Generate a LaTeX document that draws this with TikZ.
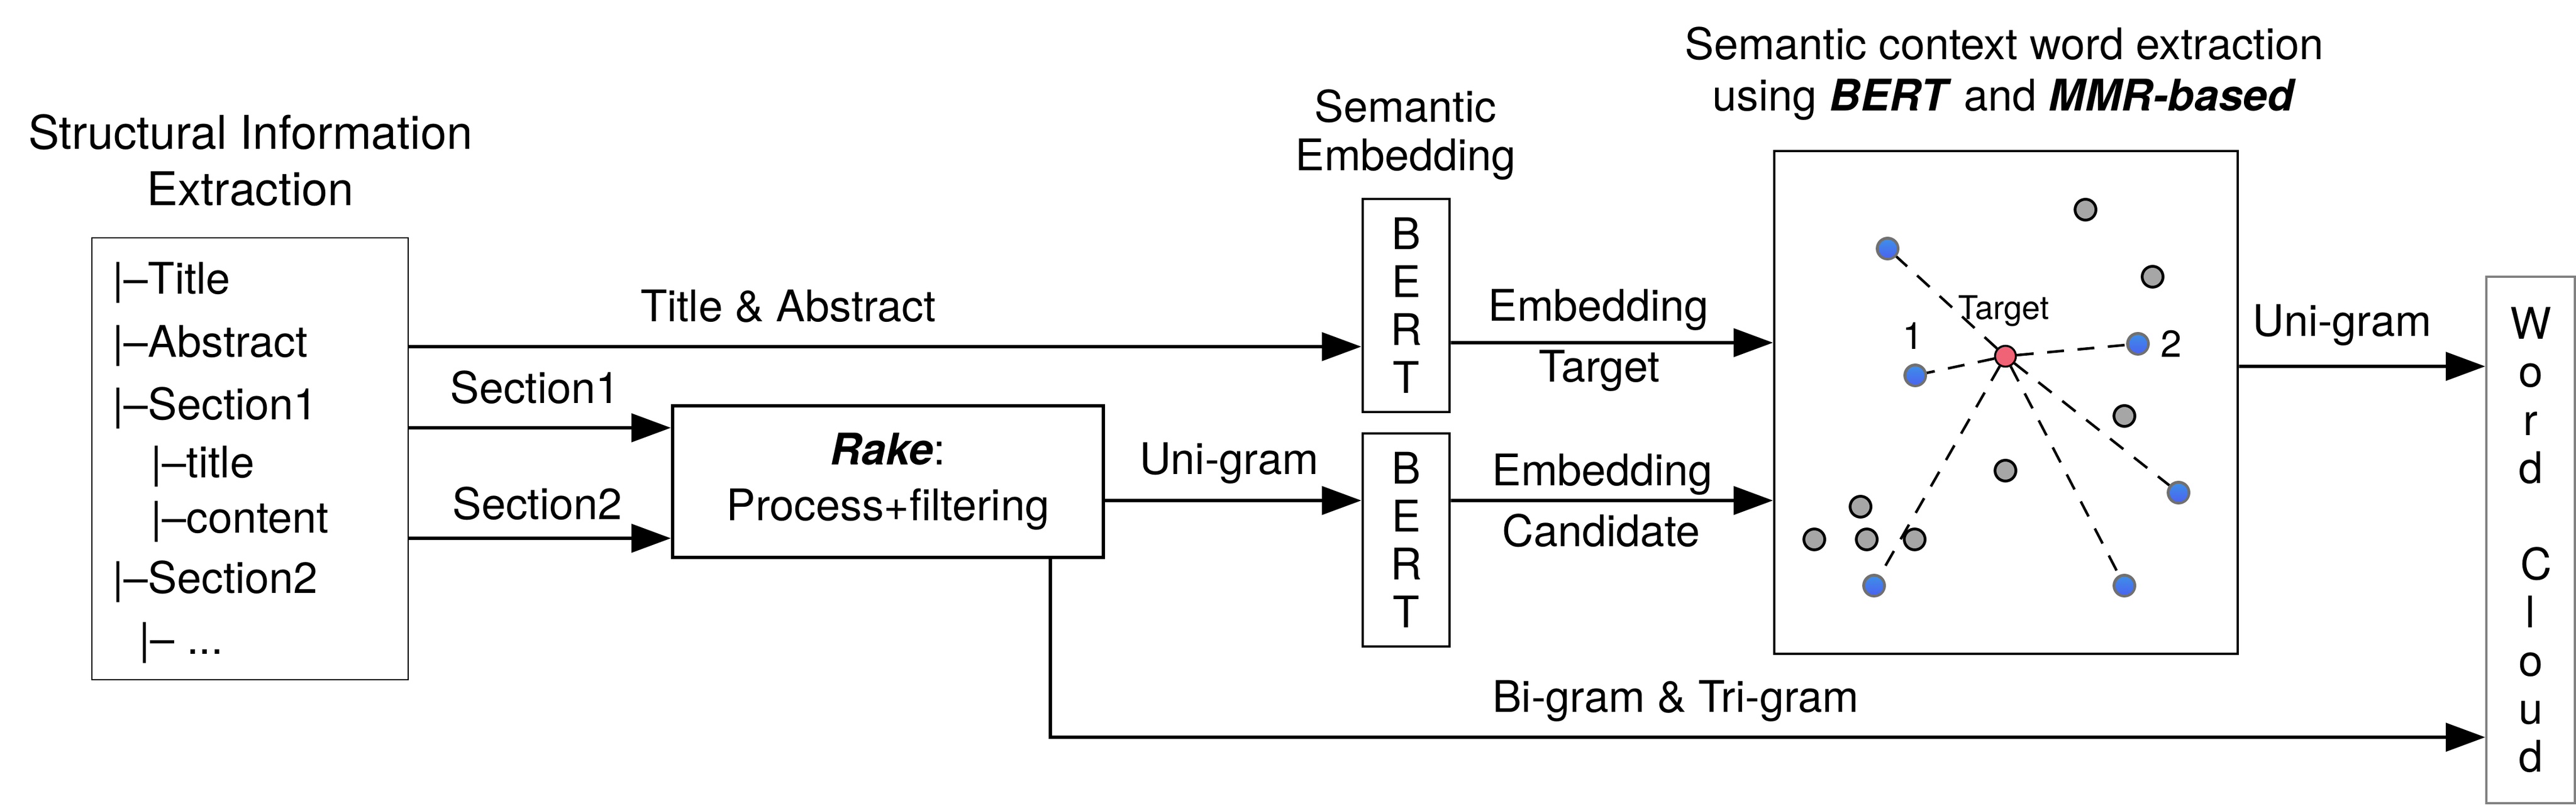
\documentclass[tikz,border=0pt]{standalone}
\usepackage{fontspec}
\setmainfont{TeX Gyre Heros}
\usetikzlibrary{arrows.meta}

\definecolor{dotgray}{HTML}{A6A6A6}
\definecolor{rimgray}{HTML}{707070}
\definecolor{blueTop}{HTML}{3E90E8}
\definecolor{blueBot}{HTML}{4B62F0}
\definecolor{targetred}{HTML}{F06276}
\definecolor{cloudgray}{HTML}{808080}

\begin{document}
\begin{tikzpicture}[
    lbl/.style={font=\fontsize{22}{26}\selectfont, inner sep=0pt, anchor=base},
    item/.style={font=\fontsize{22}{26}\selectfont, inner sep=0pt, anchor=base west},
    box/.style={rectangle, draw=black, line width=1.7pt, inner sep=0pt, align=center},
    stack/.style={box, line width=1.4pt, minimum width=1.54cm, minimum height=3.78cm,
                  font=\fontsize{22}{24.2}\selectfont},
    arrow/.style={-{Triangle[length=0.7cm, width=0.5cm]}, line width=1.7pt},
    word/.style={circle, minimum size=0.37cm, inner sep=0pt, line width=1.4pt},
    other/.style={word, draw=black, fill=dotgray},
    pick/.style={word, draw=rimgray, top color=blueTop, bottom color=blueBot},
    link/.style={dash pattern=on 0.3cm off 0.24cm, line width=1.3pt}
]
    \useasboundingbox (0,0) rectangle (45.69,-14.30);

    % Structural information
    \node[lbl, anchor=center, align=center, font=\fontsize{23.5}{28.45}\selectfont]
        (structtitle) at (4.44,-2.846) {Structural Information\\Extraction};
    \node[box, line width=0.7pt, minimum width=5.61cm, minimum height=7.84cm] (leftbox) at (4.435,-8.14) {};
    \node[item] (ititle) at (1.99,-5.22) {|--Title};
    \node[item] (iabstract) at (1.99,-6.34) {|--Abstract};
    \node[item] (isecone) at (1.99,-7.45) {|--Section1};
    \node[item] (isubtitle) at (2.67,-8.48) {|--title};
    \node[item] (isubcontent) at (2.67,-9.46) {|--content};
    \node[item] (isectwo) at (1.99,-10.52) {|--Section2};
    \node[item] (imore) at (2.46,-11.60) {|-- ...};

    % Rake
    \node[box, minimum width=7.64cm, minimum height=2.69cm, font=\fontsize{22}{28.2}\selectfont]
        (rake) at (15.75,-8.545) {\textbf{\textit{Rake}}:\\Process+filtering};

    % Semantic embedding
    \node[lbl, anchor=center, align=center, font=\fontsize{22}{24.5}\selectfont]
        (semtitle) at (24.93,-2.395) {Semantic\\Embedding};
    \node[stack] (bert1) at (24.94,-5.42) {B\\E\\R\\T};
    \node[stack] (bert2) at (24.94,-9.58) {B\\E\\R\\T};

    % MMR space
    \node[lbl, anchor=center, align=center, font=\fontsize{22}{25.9}\selectfont]
        (mmrtitle) at (35.55,-1.31) {Semantic context word extraction\\using \textbf{\textit{BERT}} and \textbf{\textit{MMR-based}}};
    \node[box, line width=1.3pt, minimum width=8.22cm, minimum height=8.92cm] (mmrbox) at (35.58,-7.14) {};

    \node[other] (g1) at (36.99,-3.72) {};
    \node[other] (g2) at (38.18,-4.91) {};
    \node[other] (g3) at (37.68,-7.38) {};
    \node[other] (g4) at (35.57,-8.35) {};
    \node[other] (g5) at (33.00,-8.99) {};
    \node[other] (g6) at (32.18,-9.57) {};
    \node[other] (g7) at (33.11,-9.57) {};
    \node[other] (g8) at (33.96,-9.57) {};
    \node[pick] (b1) at (33.48,-4.41) {};
    \node[pick] (b2) at (33.97,-6.66) {};
    \node[pick] (b3) at (37.92,-6.10) {};
    \node[pick] (b4) at (38.64,-8.74) {};
    \node[pick] (b5) at (33.24,-10.39) {};
    \node[pick] (b6) at (37.68,-10.39) {};
    \node[word, draw=black, line width=1pt, fill=targetred] (target) at (35.57,-6.32) {};

    \draw[link] (target) -- (b1);
    \draw[link] (target) -- (b2);
    \draw[link] (target) -- (b3);
    \draw[link] (target) -- (b4);
    \draw[link] (target) -- (b5);
    \draw[link] (target) -- (b6);

    \node[lbl, font=\fontsize{16.5}{20}\selectfont] (lbltarget) at (35.54,-5.67) {Target};
    \node[lbl, font=\fontsize{19}{22}\selectfont] (lblone) at (33.93,-6.20) {1};
    \node[lbl, font=\fontsize{19}{22}\selectfont] (lbltwo) at (38.51,-6.34) {2};

    % Word cloud
    \node[box, draw=cloudgray, line width=1.1pt, minimum width=1.57cm, minimum height=9.34cm,
          font=\fontsize{22}{24.3}\selectfont]
        (cloud) at (44.885,-9.58) {W\\o\\r\\d\\[24.3pt]\hspace*{0.26em}C\\l\\o\\u\\d};

    % Arrows
    \draw[arrow] ([yshift=1.99cm]leftbox.east) -- ([yshift=-0.73cm]bert1.west);
    \draw[arrow] ([yshift=0.55cm]leftbox.east) -- ([yshift=0.955cm]rake.west);
    \draw[arrow] ([yshift=-1.41cm]leftbox.east) -- ([yshift=-1.005cm]rake.west);
    \draw[arrow] ([yshift=-0.335cm]rake.east) -- ([yshift=0.70cm]bert2.west);
    \draw[arrow] ([yshift=-0.66cm]bert1.east) -- ([yshift=1.06cm]mmrbox.west);
    \draw[arrow] ([yshift=0.70cm]bert2.east) -- ([yshift=-1.74cm]mmrbox.west);
    \draw[arrow] ([yshift=0.64cm]mmrbox.east) -- ([yshift=3.08cm]cloud.west);
    \draw[arrow] ([xshift=2.88cm]rake.south) |- ([yshift=-3.50cm]cloud.west);

    % Labels
    \node[lbl] (lblabs) at (13.98,-5.71) {Title \& Abstract};
    \node[lbl] (lblsecone) at (9.49,-7.16) {Section1};
    \node[lbl] (lblsectwo) at (9.53,-9.22) {Section2};
    \node[lbl] (lbluni) at (21.80,-8.42) {Uni-gram};
    \node[lbl] (lblembone) at (28.35,-5.70) {Embedding};
    \node[lbl] (lbltgt) at (28.37,-6.78) {Target};
    \node[lbl] (lblembtwo) at (28.42,-8.62) {Embedding};
    \node[lbl] (lblcand) at (28.40,-9.70) {Candidate};
    \node[lbl] (lblunitwo) at (41.54,-5.97) {Uni-gram};
    \node[lbl] (lblbitri) at (29.72,-12.63) {Bi-gram \& Tri-gram};

\end{tikzpicture}
\end{document}
